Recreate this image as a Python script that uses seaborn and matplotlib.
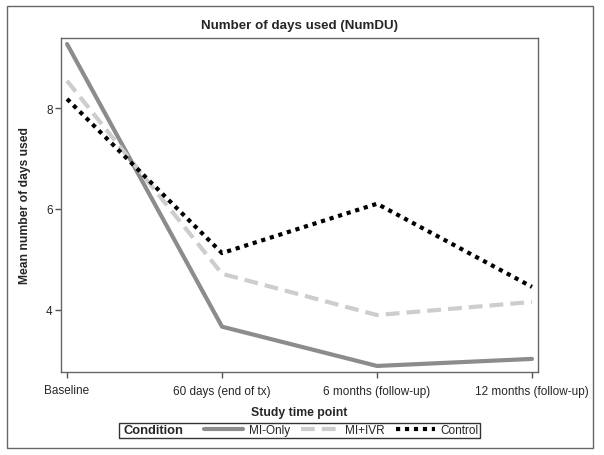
import pandas as pd
import matplotlib
matplotlib.use("Agg")
import matplotlib.pyplot as plt
import seaborn as sns
from matplotlib.lines import Line2D
from matplotlib.patches import Rectangle

timepoints = ["Baseline", "60 days (end of tx)", "6 months (follow-up)", "12 months (follow-up)"]
conditions = ["MI-Only", "MI+IVR", "Control"]
mi_only = [9.27, 3.66, 2.88, 3.02]
mi_ivr = [8.54, 4.71, 3.89, 4.15]
control = [8.18, 5.12, 6.10, 4.45]

rows = []
for cond, vals in zip(conditions, [mi_only, mi_ivr, control]):
    for i, v in enumerate(vals):
        rows.append({"time": i, "mean": v, "cond": cond})
df = pd.DataFrame(rows)

sns.set_style("white")
plt.rcParams['font.family'] = ['Liberation Sans', 'DejaVu Sans']

W, H = 604, 456
fig = plt.figure(figsize=(6.04, 4.56), dpi=100)
ax = fig.add_axes([61/W, 1 - 373/H, (538-61)/W, (373-39)/H])

palette = {"MI-Only": "#8c8c8c", "MI+IVR": "#cdcdcd", "Control": "#000000"}
dashes = {"MI-Only": "", "MI+IVR": (3.3, 1.7), "Control": (1, 1.15)}
sns.lineplot(data=df, x="time", y="mean", hue="cond", style="cond",
             palette=palette, dashes=dashes, linewidth=3, ax=ax, legend=False)

ax.set_xlim(-0.039, 3.039)
ax.set_ylim(2.76, 9.39)
ax.set_xticks(range(4))
ax.set_xticklabels(timepoints, fontsize=8.5)
ax.set_yticks([4, 6, 8])
ax.tick_params(axis='y', labelsize=8.5, length=4, width=1, color="#555555", direction='out', left=True, pad=2)
ax.tick_params(axis='x', length=4, width=1, color="#555555", direction='out', bottom=True, pad=5)
for s in ax.spines.values():
    s.set_color("#666666")
    s.set_linewidth(1)
ax.set_xlabel("Study time point", fontsize=8.8, fontweight='bold', labelpad=7)
ax.set_ylabel("Mean number of days used", fontsize=8.7, fontweight='bold')
ax.yaxis.set_label_coords(-0.062, 0.5)
ax.set_title("Number of days used (NumDU)", fontsize=9.6, fontweight='bold', pad=7)

# outer frame
fig.patches.append(Rectangle((7/W, 1 - 449/H), (593-7)/W, (449-7)/H,
                             transform=fig.transFigure, fill=False,
                             edgecolor="#666666", linewidth=1))

# legend box with inline title
fig.patches.append(Rectangle((119/W, 1 - 439/H), (480-119)/W, (439-424)/H,
                             transform=fig.transFigure, fill=False,
                             edgecolor="#333333", linewidth=1))
fig.text(124/W, 1 - 431.5/H, "Condition", fontsize=9.3, fontweight='bold', va='center', ha='left')

styles = {"MI-Only": '-', "MI+IVR": (0, (3.3, 1.7)), "Control": (0, (1, 1.15))}
handles = [Line2D([], [], color=palette[c], linewidth=3, linestyle=styles[c], label=c)
           for c in conditions]
leg = fig.legend(handles=handles, loc='center left', bbox_to_anchor=(204/W, 1 - 431.5/H),
                 ncol=3, frameon=False, fontsize=8.5, handlelength=3.3, handletextpad=0.5,
                 columnspacing=0.9, borderpad=0, borderaxespad=0)

fig.savefig("out.png", dpi=100)
